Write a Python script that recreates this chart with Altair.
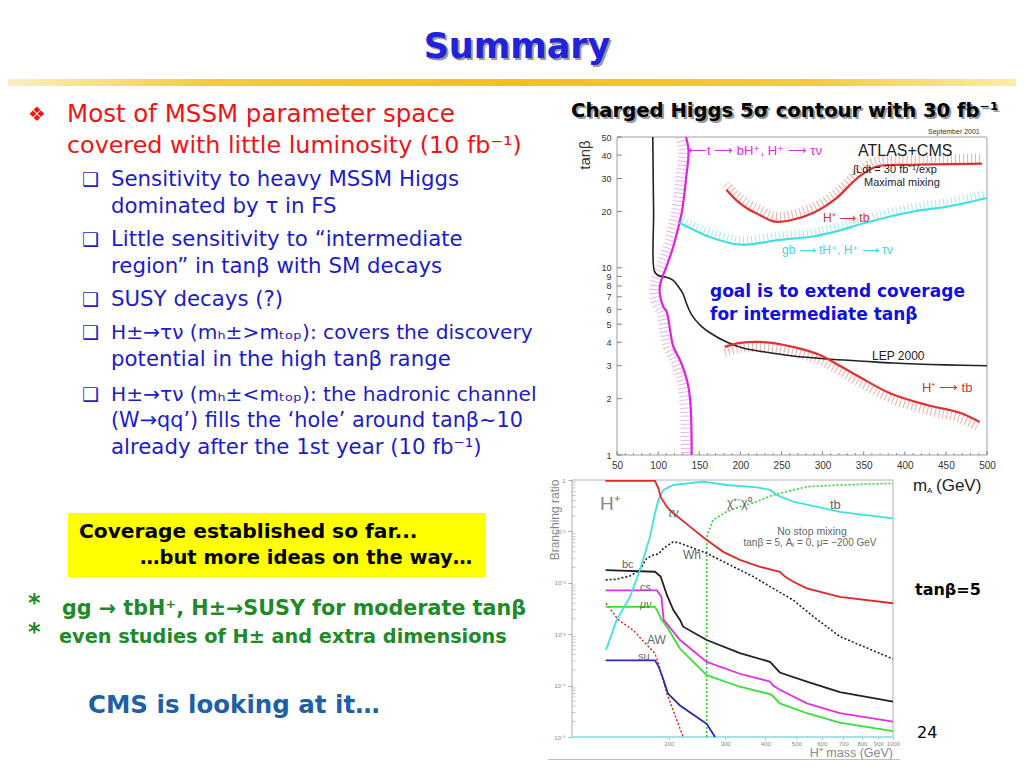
import altair as alt
import pandas as pd

# ======================= DATA =======================
# --- top plot: 5 sigma contours, tan(beta) vs m_A (GeV) ---
LEP_M = [93.5, 94.5, 95.5, 100, 110, 118, 124, 130, 136, 142, 152, 163, 184, 203, 230, 264, 305, 350, 386, 450, 500]
LEP_TB = [50, 20, 9.6, 9.1, 8.9, 8.6, 8.0, 7.3, 6.2, 5.5, 4.9, 4.5, 4.0, 3.73, 3.55, 3.38, 3.26, 3.17, 3.1, 3.03, 3.0]

TBH_M = [134, 137, 134, 129, 126, 118.5, 109.6, 105.5, 102.3, 102, 106.3, 110.4, 114.5, 118.5, 126.6, 132.7, 136.8, 139.6, 140.8]
TBH_TB = [50, 42, 30, 20, 17.4, 13, 10, 9, 8.1, 7.3, 6.2, 5.83, 4.66, 3.79, 3.22, 2.73, 2.32, 1.81, 1.0]

GB_M = [125.8, 140, 163, 200, 248, 288, 320, 350, 410, 451, 500]
GB_TB = [17.4, 16.2, 14.6, 13.3, 14.1, 14.7, 15.8, 17.3, 20.0, 21.2, 23.6]

TB_HI_M = [183, 195, 208, 225, 240, 260, 289, 317, 342, 366, 410, 494]
TB_HI_TB = [26.1, 23, 20.8, 19, 17.7, 17.9, 19.7, 23.6, 30.1, 34.8, 35.5, 36]

TB_LO_M = [181, 200, 232, 264, 297, 313, 345, 382, 427, 467, 491]
TB_LO_TB = [3.78, 3.97, 4.0, 3.78, 3.42, 3.14, 2.61, 2.14, 1.85, 1.68, 1.5]

TOP_X_TICKS = [50, 100, 150, 200, 250, 300, 350, 400, 450, 500]
TOP_X_MINOR = [60, 70, 80, 90, 110, 120, 130, 140, 160, 170, 180, 190, 210, 220, 230, 240,
               260, 270, 280, 290, 310, 320, 330, 340, 360, 370, 380, 390, 410, 420, 430, 440,
               460, 470, 480, 490]
TOP_Y_TICKS = [1, 2, 3, 4, 5, 6, 7, 8, 9, 10, 20, 30, 40, 50]

# --- bottom plot: H+ branching ratios vs H+ mass (tan beta = 5) ---
TAUNU_M = [127, 181.3, 185.9, 188.9, 197.5, 206.9, 233, 262.8, 296, 333.4, 385, 423, 444, 460.6, 489, 539, 683, 1000]
TAUNU_BR = [0.96, 0.96, 0.69, 0.47, 0.30, 0.225, 0.124, 0.068, 0.040, 0.028, 0.0205, 0.0177, 0.0164, 0.0132, 0.0105, 0.0078, 0.0053, 0.0040]

TB_M = [127.6, 137.8, 151.6, 162.8, 175, 181.3, 185.9, 192.7, 206.9, 233, 256, 303, 376, 414, 434, 489, 539, 683, 1000]
TB_BR = [4.9e-4, 1.9e-3, 5.3e-3, 0.0177, 0.079, 0.225, 0.41, 0.64, 0.80, 0.87, 0.93, 0.80, 0.72, 0.64, 0.51, 0.38, 0.33, 0.24, 0.18]

CHI_M = [262.8, 262.8, 264, 269, 275, 303, 333, 376, 423, 539, 683, 1000]
CHI_BR = [1e-5, 0.05, 0.09, 0.116, 0.167, 0.241, 0.302, 0.378, 0.51, 0.74, 0.80, 0.86]

WH_M = [127.3, 137.8, 151.6, 162.8, 170.9, 179.3, 185.9, 192.7, 206.9, 217, 233, 262.8, 303, 367, 423, 489, 565, 683, 1000]
WH_BR = [0.0114, 0.0117, 0.0136, 0.0177, 0.030, 0.0348, 0.0363, 0.047, 0.063, 0.059, 0.050, 0.0375, 0.024, 0.0132, 0.0078, 0.0046, 0.0022, 9.0e-4, 3.3e-4]

BC_M = [127.3, 181.3, 188.9, 197.5, 206.9, 217, 222, 262.8, 333.4, 414, 423, 444, 539, 683, 1000]
BC_BR = [0.0177, 0.0164, 0.0132, 5.8e-3, 2.95e-3, 1.9e-3, 1.4e-3, 7.7e-4, 4.3e-4, 2.9e-4, 2.5e-4, 1.8e-4, 1.2e-4, 7.5e-5, 4.9e-5]

CS_M = [127.3, 184, 190, 193, 217, 262.8, 333, 414, 423, 444, 539, 683, 1000]
CS_BR = [7.1e-3, 7.1e-3, 5.3e-3, 1.9e-3, 7.7e-4, 2.9e-4, 1.7e-4, 1.2e-4, 1.0e-4, 8.3e-5, 4.5e-5, 2.9e-5, 2.0e-5]

MUNU_M = [127.3, 181.3, 185.9, 190, 197.5, 217, 262.8, 333, 414, 423, 444, 539, 683, 1000]
MUNU_BR = [3.4e-3, 3.4e-3, 2.6e-3, 1.9e-3, 1.4e-3, 5.2e-4, 1.6e-4, 9.5e-5, 6.8e-5, 6.2e-5, 4.5e-5, 2.9e-5, 1.9e-5, 1.3e-5]

SU_M = [127.3, 181.3, 185.9, 192.7, 199, 217, 251, 262.8, 279]
SU_BR = [3.1e-4, 3.1e-4, 2.4e-4, 1.3e-4, 7e-5, 4.1e-5, 2.2e-5, 1.8e-5, 1e-5]

AW_M = [127.6, 139.4, 155, 171, 181, 185.9, 197.5, 222]
AW_BR = [4e-3, 1.9e-3, 1.2e-3, 6.2e-4, 4.3e-4, 2.7e-4, 7e-5, 1e-5]

BOT_X_TICKS = [200, 300, 400, 500, 600, 700, 800, 900, 1000]
BOT_Y_TICKS = [1e-5, 1e-4, 1e-3, 1e-2, 1e-1, 1]
BOT_Y_MINOR = [m * d for d in [1e-5, 1e-4, 1e-3, 1e-2, 1e-1] for m in [2, 3, 4, 5, 6, 7, 8, 9]]

# --- slide text ---
TITLE = "Summary"
RED_LINES = ["Most of MSSM parameter space", "covered with little luminosity (10 fb⁻¹)"]
BLUE_LINES = [
    "Sensitivity to heavy MSSM Higgs",
    "dominated by τ in FS",
    "Little sensitivity to “intermediate",
    "region” in tanβ with SM decays",
    "SUSY decays (?)",
    "H±→τν (mₕ±>mₜₒₚ): covers the discovery",
    "potential in the high tanβ range",
    "H±→τν (mₕ±<mₜₒₚ): the hadronic channel",
    "(W→qq’) fills the ‘hole’ around tanβ~10",
    "already after the 1st year (10 fb⁻¹)",
]
BLUE_HAS_BULLET = [True, False, True, False, True, True, False, True, False, False]
BOX_LINES = ["Coverage established so far...", "…but more ideas on the way…"]
GREEN_LINES = ["gg → tbH⁺, H±→SUSY for moderate tanβ", "even studies of H± and extra dimensions"]
CMS_LINE = "CMS is looking at it…"
PLOT_TITLE = "Charged Higgs 5σ contour with 30 fb⁻¹"
GOAL_LINES = ["goal is to extend coverage", "for intermediate tanβ"]

# ======================= LAYOUT / STYLE =======================
M = 8
W, H = 1008, 752
SF = "DejaVu Sans"
PF = "Liberation Sans"


def P(v):
    return v - M


def txt(s, x, y, size, color="black", weight="normal", font=SF, align="left",
        angle=None, italic=False, baseline="middle"):
    kw = dict(align=align, baseline=baseline, fontSize=size, color=color,
              fontWeight=weight, font=font)
    if angle is not None:
        kw["angle"] = angle
    if italic:
        kw["fontStyle"] = "italic"
    return alt.Chart(pd.DataFrame({"t": [s]})).mark_text(**kw).encode(
        x=alt.value(P(x)), y=alt.value(P(y)), text="t:N")


def box(x1, y1, x2, y2, fill):
    return alt.Chart(pd.DataFrame({"k": [0]})).mark_rect(fill=fill).encode(
        x=alt.value(P(x1)), x2=alt.value(P(x2)), y=alt.value(P(y1)), y2=alt.value(P(y2)))


# ---- top plot scales / axes ----
TX = alt.Scale(type="linear", domain=[50, 500], range=[P(617), P(987)], nice=False, zero=False)
TY = alt.Scale(type="log", domain=[1, 50], range=[P(455), P(137)], nice=False)
AX_TX = alt.Axis(orient="bottom", offset=P(455) - H, values=TOP_X_TICKS, format="d",
                 labelFont=PF, labelFontSize=10, labelColor="#333", labelPadding=5,
                 ticks=False, domain=False, grid=False, title=None,
                 labelFlush=False, labelOverlap=False)
AX_TY = alt.Axis(orient="left", offset=-P(617), values=TOP_Y_TICKS, format="d",
                 labelFont=PF, labelFontSize=9, labelColor="#333", labelPadding=6,
                 ticks=False, domain=False, grid=False, title=None,
                 labelFlush=False, labelOverlap=False)


def top_df(ms, tbs):
    return pd.DataFrame({"m": ms, "tb": tbs, "i": range(len(ms))})


def top_line(df, color, width=2.0):
    return alt.Chart(df).mark_line(color=color, strokeWidth=width, interpolate="catmull-rom").encode(
        x=alt.X("m:Q", scale=TX, axis=AX_TX), y=alt.Y("tb:Q", scale=TY, axis=AX_TY), order="i:Q")


def top_hatch(df, color, ex, ey, width):
    return alt.Chart(df).transform_calculate(hm=ex, htb=ey).mark_line(
        color=color, strokeWidth=width, strokeDash=[1, 3], opacity=0.85,
        interpolate="catmull-rom").encode(
        x=alt.X("hm:Q", scale=TX, axis=AX_TX), y=alt.Y("htb:Q", scale=TY, axis=AX_TY), order="i:Q")


lep = top_df(LEP_M, LEP_TB)
tbh = top_df(TBH_M, TBH_TB)
gb = top_df(GB_M, GB_TB)
thi = top_df(TB_HI_M, TB_HI_TB)
tlo = top_df(TB_LO_M, TB_LO_TB)

frame_top = alt.Chart(pd.DataFrame({"m": [50], "m2": [500], "tb": [1], "tb2": [50]})).mark_rect(
    fill="transparent", stroke="#a0a0a0", strokeWidth=1).encode(
    x=alt.X("m:Q", scale=TX, axis=AX_TX), x2="m2",
    y=alt.Y("tb:Q", scale=TY, axis=AX_TY), y2="tb2")

# inward tick marks (major and minor) drawn from the tick value lists
xt = pd.DataFrame({"m": TOP_X_TICKS + TOP_X_MINOR,
                   "len": [1.045] * len(TOP_X_TICKS) + [1.022] * len(TOP_X_MINOR)})
top_xticks = alt.Chart(xt).transform_calculate(tb="1", tb2="datum.len").mark_rule(
    color="#666", strokeWidth=0.8).encode(
    x=alt.X("m:Q", scale=TX, axis=AX_TX), y=alt.Y("tb:Q", scale=TY, axis=AX_TY), y2="tb2:Q")
yt = pd.DataFrame({"tb": TOP_Y_TICKS})
top_yticks = alt.Chart(yt).transform_calculate(m="50", m2="56").mark_rule(
    color="#666", strokeWidth=0.8).encode(
    x=alt.X("m:Q", scale=TX, axis=AX_TX), x2="m2:Q", y=alt.Y("tb:Q", scale=TY, axis=AX_TY))

top_plot = alt.layer(
    frame_top, top_xticks, top_yticks,
    top_hatch(tbh, "#e4a8e4", "datum.m - 7", "datum.tb", 10),
    top_hatch(gb, "#9ce6e6", "datum.m", "datum.tb * 1.065", 7),
    top_hatch(thi, "#e8a0a0", "datum.m", "datum.tb * 1.07", 9),
    top_hatch(tlo, "#e8a0a0", "datum.m", "datum.tb / 1.07", 9),
    top_line(lep, "#222222", 1.6),
    top_line(tbh, "#e020e0", 2.2),
    top_line(gb, "#40e0e0", 2.2),
    top_line(thi, "#e03030", 2.2),
    top_line(tlo, "#e03030", 2.2),
)

# ---- bottom plot scales / axes ----
BX = alt.Scale(type="log", domain=[100, 1000], range=[P(572), P(893)], nice=False)
BY = alt.Scale(type="log", domain=[1e-5, 1], range=[P(737), P(480)], nice=False)
AX_BX = alt.Axis(orient="bottom", offset=P(737) - H, values=BOT_X_TICKS, format="d",
                 labelFont=PF, labelFontSize=6, labelColor="#888", labelPadding=1,
                 tickSize=2, tickColor="#aaa", domain=False, grid=False, title=None,
                 labelFlush=False, labelOverlap=False)
AX_BY = alt.Axis(orient="left", offset=-P(572), values=BOT_Y_TICKS,
                 labelExpr=("datum.value >= 0.5 ? '1' : datum.value >= 0.05 ? '10⁻¹' : "
                            "datum.value >= 0.005 ? '10⁻²' : datum.value >= 0.0005 ? '10⁻³' : "
                            "datum.value >= 0.00005 ? '10⁻⁴' : '10⁻⁵'"),
                 labelFont=PF, labelFontSize=6, labelColor="#888", labelPadding=3,
                 tickSize=4, tickColor="#aaa", domain=False, grid=False, title=None,
                 labelFlush=False, labelOverlap=False)


def bot_line(ms, brs, color, width=1.8, dash=None):
    df = pd.DataFrame({"m": ms, "br": brs, "i": range(len(ms))})
    kw = dict(color=color, strokeWidth=width, interpolate="linear")
    if dash:
        kw["strokeDash"] = dash
    return alt.Chart(df).mark_line(**kw).encode(
        x=alt.X("m:Q", scale=BX, axis=AX_BX), y=alt.Y("br:Q", scale=BY, axis=AX_BY), order="i:Q")


frame_bot = alt.Chart(pd.DataFrame({"m": [100], "m2": [1000], "br": [1e-5], "br2": [1]})).mark_rect(
    fill="transparent", stroke="#b0b0b0", strokeWidth=1).encode(
    x=alt.X("m:Q", scale=BX, axis=AX_BX), x2="m2",
    y=alt.Y("br:Q", scale=BY, axis=AX_BY), y2="br2")

bot_yminor = alt.Chart(pd.DataFrame({"br": BOT_Y_MINOR})).transform_calculate(
    m="100", m2="102.5").mark_rule(color="#aaa", strokeWidth=0.7).encode(
    x=alt.X("m:Q", scale=BX, axis=AX_BX), x2="m2:Q", y=alt.Y("br:Q", scale=BY, axis=AX_BY))

bottom_plot = alt.layer(
    frame_bot, bot_yminor,
    bot_line([100, 1000], [1e-5, 1e-5], "#8ee8ee", 1.5),
    bot_line(CHI_M, CHI_BR, "#30d030", 1.6, [2, 2]),
    bot_line(WH_M, WH_BR, "#222222", 1.6, [2, 2]),
    bot_line(AW_M, AW_BR, "#d82020", 1.4, [2, 2]),
    bot_line(SU_M, SU_BR, "#2a2ab0", 1.8),
    bot_line(MUNU_M, MUNU_BR, "#38e038", 1.8),
    bot_line(CS_M, CS_BR, "#e030e0", 1.8),
    bot_line(BC_M, BC_BR, "#222222", 1.8),
    bot_line(TB_M, TB_BR, "#40e0e0", 1.8),
    bot_line(TAUNU_M, TAUNU_BR, "#e02828", 1.8),
)

# ---- slide decorations and text ----
RED = "#ee1414"
BLUE = "#1c1cc8"
GREEN = "#1f8a2a"

title_bar = alt.Chart(pd.DataFrame({"k": [0]})).mark_rect(
    fill=alt.LinearGradient(gradient="linear", stops=[
        alt.GradientStop(offset=0, color="#fbf1c8"),
        alt.GradientStop(offset=0.2, color="#f3cc3c"),
        alt.GradientStop(offset=0.5, color="#f2c01a"),
        alt.GradientStop(offset=0.8, color="#f3cc3c"),
        alt.GradientStop(offset=1, color="#fbeeb0")])).encode(
    x=alt.value(P(0)), x2=alt.value(P(1024)), y=alt.value(P(79)), y2=alt.value(P(86)))

texts = [
    txt(TITLE, 519, 60, 35, "#9a9a9a", "bold", align="center", baseline="alphabetic"),
    txt(TITLE, 517, 58, 35, "#2222dd", "bold", align="center", baseline="alphabetic"),
    txt("❖", 28, 115, 20, RED),
    txt(RED_LINES[0], 67, 115, 24.5, RED),
    txt(RED_LINES[1], 67, 146, 23.8, RED),
]
BLUE_Y = [180, 207, 240, 267, 300, 333, 360, 395, 421, 448]
BLUE_SIZE = [21.3, 21.3, 21.3, 21.3, 21.3, 20.2, 21.3, 20.2, 20.8, 21.3]
for s, yy, b, fs in zip(BLUE_LINES, BLUE_Y, BLUE_HAS_BULLET, BLUE_SIZE):
    if b:
        texts.append(txt("❑", 82, yy, 19, BLUE))
    texts.append(txt(s, 111, yy, fs, BLUE))

texts += [
    box(68, 513, 486, 577, "#ffff00"),
    txt(BOX_LINES[0], 79, 532, 20.2, "black", "bold"),
    txt(BOX_LINES[1], 140, 558, 19.5, "black", "bold"),
    txt("*", 28, 604, 24, GREEN, "bold"),
    txt("*", 28, 633, 24, GREEN, "bold"),
    txt(GREEN_LINES[0], 62, 609, 20.7, GREEN, "bold"),
    txt(GREEN_LINES[1], 59, 637, 19.3, GREEN, "bold"),
    txt(CMS_LINE, 88, 706, 24.5, "#1f5fa6", "bold"),
    txt("tanβ=5", 915, 590, 16, "black", "bold"),
    txt("24", 917, 733, 16, "black"),
    # top plot annotations
    txt(PLOT_TITLE, 573, 113, 19.6, "#9a9a9a", "bold"),
    txt(PLOT_TITLE, 571, 111, 19.6, "black", "bold"),
    txt("tanβ", 585, 155, 15, "#333", font=PF, align="center", angle=270),
    txt("September 2001", 928, 132, 7, "#333", font=PF),
    txt("ATLAS+CMS", 858, 151, 16, "#222", font=PF),
    txt("∫Ldt = 30 fb⁻¹/exp", 853, 170, 11, "#222", font=PF),
    txt("Maximal mixing", 864, 183, 11, "#222", font=PF),
    txt("⟵t ⟶ bH⁺, H⁺ ⟶ τν", 688, 151, 13, "#d830d8", font=PF),
    txt("H⁺ ⟶ tb", 823, 218, 12, "#d83030", font=PF),
    txt("gb ⟶ tH⁺, H⁺ ⟶ τν", 782, 250, 12, "#40d8d8", font=PF),
    txt("LEP 2000", 872, 356, 12, "#222", font=PF),
    txt("H⁺ ⟶ tb", 922, 388, 13, "#d83030", font=PF),
    txt(GOAL_LINES[0], 710, 292, 17, "#1010e0", "bold"),
    txt(GOAL_LINES[1], 710, 315, 17, "#1010e0", "bold"),
    txt("m", 913, 486, 17, "#222", font=PF),
    txt("A", 927, 491, 8, "#222", font=PF),
    txt("(GeV)", 936, 486, 17, "#222", font=PF),
    # bottom plot annotations
    txt("Branching ratio", 555, 520, 12, "#888", font=PF, align="center", angle=270),
    txt("H⁺ mass (GeV)", 893, 757, 12.5, "#888", font=PF, align="right", baseline="alphabetic"),
    txt("H⁺", 600, 504, 19, "#888", font=PF),
    txt("τν", 668, 513, 12, "#666", font=PF, italic=True),
    txt("χ⁺⁻χ⁰", 727, 503, 12, "#666", font=PF),
    txt("tb", 830, 505, 13, "#666", font=PF),
    txt("No stop mixing", 812, 532, 10.5, "#666", font=PF, align="center"),
    txt("tanβ = 5, Aₜ = 0, μ= −200 GeV", 810, 543, 10, "#666", font=PF, align="center"),
    txt("Wh", 683, 555, 12, "#666", font=PF),
    txt("bc", 622, 565, 11, "#666", font=PF),
    txt("cs", 640, 588, 11, "#666", font=PF),
    txt("μν", 640, 605, 11, "#666", font=PF, italic=True),
    txt("AW", 647, 640, 12, "#666", font=PF),
    txt("su", 638, 657, 11, "#666", font=PF),
    box(548, 759, 900, 760, "#c0c0c0"),
]

chart = alt.layer(
    title_bar, top_plot, bottom_plot, *texts
).resolve_scale(
    x="independent", y="independent"
).properties(
    width=W, height=H, autosize=alt.AutoSizeParams(type="none"), padding=0,
    background="white"
).configure_view(stroke=None)

chart.save("out.html", embed_options={"renderer": "svg", "actions": False})
